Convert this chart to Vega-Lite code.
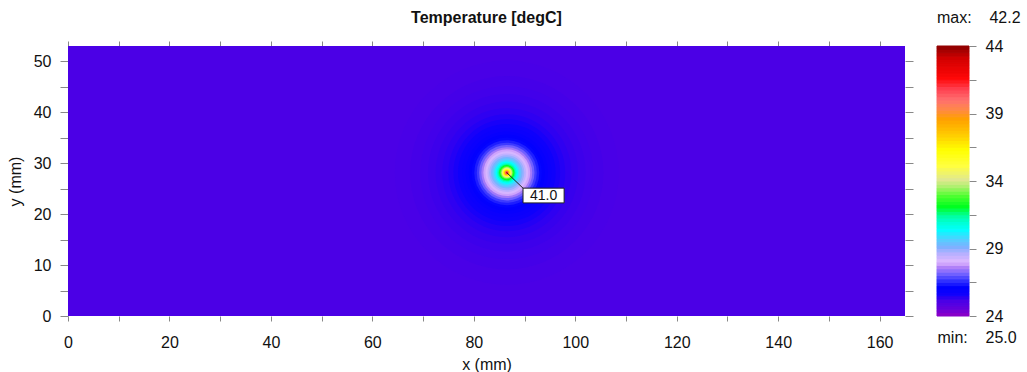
{
  "$schema": "https://vega.github.io/schema/vega-lite/v6.json",
  "padding": {"left": 7, "top": 9, "right": 0, "bottom": 0},
  "background": "white",
  "config": {
    "view": {"stroke": null},
    "font": "Liberation Sans",
    "axis": {
      "grid": false, "domain": false,
      "labelFont": "Liberation Sans", "labelFontSize": 16, "labelColor": "#111",
      "titleFont": "Liberation Sans", "titleFontSize": 16, "titleFontWeight": "normal", "titleColor": "#111",
      "tickColor": "#888", "labelFlush": false, "labelOverlap": false, "labelBound": false
    }
  },
  "datasets": {
    "bg": [{"x0": 0, "x1": 165, "y0": 0, "y1": 53, "t": 25.0}],
    "rings": [
      {"x": 86.5, "y": 28.13, "r": 22, "t": 25.02},
      {"x": 86.5, "y": 28.13, "r": 19, "t": 25.05},
      {"x": 86.5, "y": 28.13, "r": 17, "t": 25.08},
      {"x": 86.5, "y": 28.13, "r": 15.5, "t": 25.12},
      {"x": 86.5, "y": 28.13, "r": 14, "t": 25.17},
      {"x": 86.5, "y": 28.13, "r": 12.7, "t": 25.24},
      {"x": 86.5, "y": 28.13, "r": 11.5, "t": 25.33},
      {"x": 86.5, "y": 28.13, "r": 10.5, "t": 25.43},
      {"x": 86.5, "y": 28.13, "r": 9.6, "t": 25.55},
      {"x": 86.5, "y": 28.13, "r": 8.8, "t": 25.66},
      {"x": 86.5, "y": 28.13, "r": 8.1, "t": 25.78},
      {"x": 86.5, "y": 28.13, "r": 7.5, "t": 25.9},
      {"x": 86.5, "y": 28.13, "r": 6.9, "t": 26.05},
      {"x": 86.5, "y": 28.13, "r": 6.4, "t": 26.3},
      {"x": 86.5, "y": 28.13, "r": 5.9, "t": 26.6},
      {"x": 86.5, "y": 28.13, "r": 5.45, "t": 27.0},
      {"x": 86.5, "y": 28.13, "r": 5.0, "t": 27.4},
      {"x": 86.5, "y": 28.13, "r": 4.6, "t": 27.75},
      {"x": 86.5, "y": 28.13, "r": 4.2, "t": 28.05},
      {"x": 86.5, "y": 28.13, "r": 3.8, "t": 28.4},
      {"x": 86.5, "y": 28.13, "r": 3.45, "t": 28.75},
      {"x": 86.5, "y": 28.13, "r": 3.1, "t": 29.1},
      {"x": 86.5, "y": 28.13, "r": 2.8, "t": 29.45},
      {"x": 86.5, "y": 28.13, "r": 2.5, "t": 29.85},
      {"x": 86.5, "y": 28.13, "r": 2.2, "t": 30.3},
      {"x": 86.5, "y": 28.13, "r": 1.95, "t": 30.8},
      {"x": 86.5, "y": 28.13, "r": 1.7, "t": 31.4},
      {"x": 86.5, "y": 28.13, "r": 1.5, "t": 32.0},
      {"x": 86.5, "y": 28.13, "r": 1.3, "t": 32.7},
      {"x": 86.5, "y": 28.13, "r": 1.1, "t": 33.5},
      {"x": 86.5, "y": 28.13, "r": 0.95, "t": 34.3},
      {"x": 86.5, "y": 28.13, "r": 0.8, "t": 35.3},
      {"x": 86.5, "y": 28.13, "r": 0.65, "t": 36.4},
      {"x": 86.5, "y": 28.13, "r": 0.5, "t": 37.8},
      {"x": 86.5, "y": 28.13, "r": 0.38, "t": 39.2},
      {"x": 86.5, "y": 28.13, "r": 0.26, "t": 40.6},
      {"x": 86.5, "y": 28.13, "r": 0.15, "t": 41.8}
    ],
    "label": [{"x": 86.5, "y": 28.13, "lx": 89.8, "ly": 25.0, "bx0": 89.7, "bx1": 97.8, "by0": 22.2, "by1": 25.1, "tx": 93.75, "ty": 23.65, "text": "41.0"}],
    "bar": [
      {"t":24,"u":24.25},{"t":24.25,"u":24.5},{"t":24.5,"u":24.75},{"t":24.75,"u":25},
      {"t":25,"u":25.25},{"t":25.25,"u":25.5},{"t":25.5,"u":25.75},{"t":25.75,"u":26},
      {"t":26,"u":26.25},{"t":26.25,"u":26.5},{"t":26.5,"u":26.75},{"t":26.75,"u":27},
      {"t":27,"u":27.25},{"t":27.25,"u":27.5},{"t":27.5,"u":27.75},{"t":27.75,"u":28},
      {"t":28,"u":28.25},{"t":28.25,"u":28.5},{"t":28.5,"u":28.75},{"t":28.75,"u":29},
      {"t":29,"u":29.25},{"t":29.25,"u":29.5},{"t":29.5,"u":29.75},{"t":29.75,"u":30},
      {"t":30,"u":30.25},{"t":30.25,"u":30.5},{"t":30.5,"u":30.75},{"t":30.75,"u":31},
      {"t":31,"u":31.25},{"t":31.25,"u":31.5},{"t":31.5,"u":31.75},{"t":31.75,"u":32},
      {"t":32,"u":32.25},{"t":32.25,"u":32.5},{"t":32.5,"u":32.75},{"t":32.75,"u":33},
      {"t":33,"u":33.25},{"t":33.25,"u":33.5},{"t":33.5,"u":33.75},{"t":33.75,"u":34},
      {"t":34,"u":34.25},{"t":34.25,"u":34.5},{"t":34.5,"u":34.75},{"t":34.75,"u":35},
      {"t":35,"u":35.25},{"t":35.25,"u":35.5},{"t":35.5,"u":35.75},{"t":35.75,"u":36},
      {"t":36,"u":36.25},{"t":36.25,"u":36.5},{"t":36.5,"u":36.75},{"t":36.75,"u":37},
      {"t":37,"u":37.25},{"t":37.25,"u":37.5},{"t":37.5,"u":37.75},{"t":37.75,"u":38},
      {"t":38,"u":38.25},{"t":38.25,"u":38.5},{"t":38.5,"u":38.75},{"t":38.75,"u":39},
      {"t":39,"u":39.25},{"t":39.25,"u":39.5},{"t":39.5,"u":39.75},{"t":39.75,"u":40},
      {"t":40,"u":40.25},{"t":40.25,"u":40.5},{"t":40.5,"u":40.75},{"t":40.75,"u":41},
      {"t":41,"u":41.25},{"t":41.25,"u":41.5},{"t":41.5,"u":41.75},{"t":41.75,"u":42},
      {"t":42,"u":42.25},{"t":42.25,"u":42.5},{"t":42.5,"u":42.75},{"t":42.75,"u":43},
      {"t":43,"u":43.25},{"t":43.25,"u":43.5},{"t":43.5,"u":43.75},{"t":43.75,"u":44}
    ]
  },
  "bounds": "flush",
  "spacing": 32,
  "hconcat": [
    {
      "width": 837,
      "height": 270,
      "title": {"text": "Temperature [degC]", "fontSize": 16, "fontWeight": "bold", "frame": "group", "anchor": "middle", "offset": 15, "color": "#111", "font": "Liberation Sans"},
      "layer": [
        {
          "data": {"name": "bg"},
          "mark": {"type": "rect"},
          "encoding": {
            "x": {"field": "x0", "type": "quantitative", "scale": {"domain": [0, 165], "nice": false, "zero": false},
              "axis": {"orient": "bottom", "values": [0,10,20,30,40,50,60,70,80,90,100,110,120,130,140,150,160], "labelExpr": "datum.value % 20 == 0 ? datum.label : ''", "tickSize": 5, "labelPadding": 13, "title": "x (mm)", "titlePadding": 6}},
            "x2": {"field": "x1"},
            "y": {"field": "y0", "type": "quantitative", "scale": {"domain": [0, 53], "nice": false, "zero": false},
              "axis": {"orient": "left", "values": [0,5,10,15,20,25,30,35,40,45,50], "labelExpr": "datum.value % 10 == 0 ? datum.label : ''", "tickSize": 8, "labelPadding": 9, "title": "y (mm)", "titlePadding": 10}},
            "y2": {"field": "y1"},
            "color": {"field": "t", "type": "quantitative", "legend": null,
              "scale": {"type": "linear", "interpolate": "rgb", "zero": false, "nice": false,
                "domain": [24,24.6,25,25.5,26,26.5,27,27.5,27.9,28.5,29,29.6,30.3,31.2,32,32.8,33.5,34,35,36.2,37.4,38.5,39.2,39.9,40.7,41.5,43,44],
                "range": ["#8800c8","#5a00e0","#4b00e6","#1000fc","#0000ff","#3030ff","#7060ff","#b080f8","#e0b8ff","#b8b0ff","#80b0ff","#50d0ff","#00ffff","#00ffb0","#00ff20","#50ff30","#b0f070","#e0e890","#ffff40","#ffff00","#ffc800","#ffa000","#ff8848","#ff7070","#ff4050","#ff0808","#d00000","#800000"]}}
          }
        },
        {
          "data": {"name": "rings"},
          "mark": {"type": "point", "shape": "circle", "filled": true, "opacity": 1, "strokeWidth": 0},
          "encoding": {
            "x": {"field": "x", "type": "quantitative", "axis": null},
            "y": {"field": "y", "type": "quantitative", "axis": null},
            "size": {"field": "r", "type": "quantitative", "legend": null, "scale": {"type": "pow", "exponent": 2, "domain": [0, 22], "range": [0, 50039]}},
            "color": {"field": "t", "type": "quantitative", "legend": null},
            "order": {"field": "r", "type": "quantitative", "sort": "descending"}
          }
        },
        {
          "data": {"name": "label"},
          "mark": {"type": "rule", "color": "#222", "strokeWidth": 1},
          "encoding": {
            "x": {"field": "x", "type": "quantitative", "axis": {"orient": "top", "values": [0,10,20,30,40,50,60,70,80,90,100,110,120,130,140,150,160], "labels": false, "tickSize": 5, "title": null}},
            "y": {"field": "y", "type": "quantitative", "axis": {"orient": "right", "values": [0,5,10,15,20,25,30,35,40,45,50], "labels": false, "tickSize": 8, "title": null}},
            "x2": {"field": "lx"},
            "y2": {"field": "ly"}
          }
        },
        {
          "data": {"name": "label"},
          "mark": {"type": "rect", "fill": "white", "stroke": "#222", "strokeWidth": 1},
          "encoding": {
            "x": {"field": "bx0", "type": "quantitative", "axis": null},
            "x2": {"field": "bx1"},
            "y": {"field": "by0", "type": "quantitative", "axis": null},
            "y2": {"field": "by1"}
          }
        },
        {
          "data": {"name": "label"},
          "mark": {"type": "text", "fontSize": 14, "color": "#111", "font": "Liberation Sans"},
          "encoding": {
            "x": {"field": "tx", "type": "quantitative", "axis": null},
            "y": {"field": "ty", "type": "quantitative", "axis": null},
            "text": {"field": "text"}
          }
        }
      ],
      "resolve": {"axis": {"x": "independent", "y": "independent"}}
    },
    {
      "width": 32,
      "height": 270,
      "title": {"text": "max:\u00a0\u00a0\u00a0\u00a042.2", "anchor": "start", "frame": "group", "fontSize": 16, "fontWeight": "normal", "offset": 12, "color": "#111", "font": "Liberation Sans"},
      "data": {"name": "bar"},
      "mark": {"type": "rect", "strokeWidth": 1},
      "encoding": {
        "x": {"datum": 0, "type": "quantitative", "scale": {"domain": [0, 1], "nice": false, "zero": false},
          "axis": {"orient": "bottom", "ticks": false, "labels": false, "title": "min:\u00a0\u00a0\u00a0\u00a025.0", "titleAnchor": "start", "titlePadding": 13}},
        "x2": {"datum": 1},
        "y": {"field": "t", "type": "quantitative", "scale": {"domain": [24, 44], "nice": false, "zero": false},
          "axis": {"orient": "right", "values": [24,26.5,29,31.5,34,36.5,39,41.5,44], "labelExpr": "datum.value % 5 == 4 ? datum.label : ''", "tickSize": 7, "labelPadding": 9, "title": null}},
        "y2": {"field": "u"},
        "color": {"field": "t", "type": "quantitative", "legend": null},
        "stroke": {"field": "t", "type": "quantitative", "legend": null,
          "scale": {"type": "linear", "interpolate": "rgb", "zero": false, "nice": false,
            "domain": [24,24.6,25,25.5,26,26.5,27,27.5,27.9,28.5,29,29.6,30.3,31.2,32,32.8,33.5,34,35,36.2,37.4,38.5,39.2,39.9,40.7,41.5,43,44],
            "range": ["#8800c8","#5a00e0","#4b00e6","#1000fc","#0000ff","#3030ff","#7060ff","#b080f8","#e0b8ff","#b8b0ff","#80b0ff","#50d0ff","#00ffff","#00ffb0","#00ff20","#50ff30","#b0f070","#e0e890","#ffff40","#ffff00","#ffc800","#ffa000","#ff8848","#ff7070","#ff4050","#ff0808","#d00000","#800000"]}}
      }
    }
  ]
}
